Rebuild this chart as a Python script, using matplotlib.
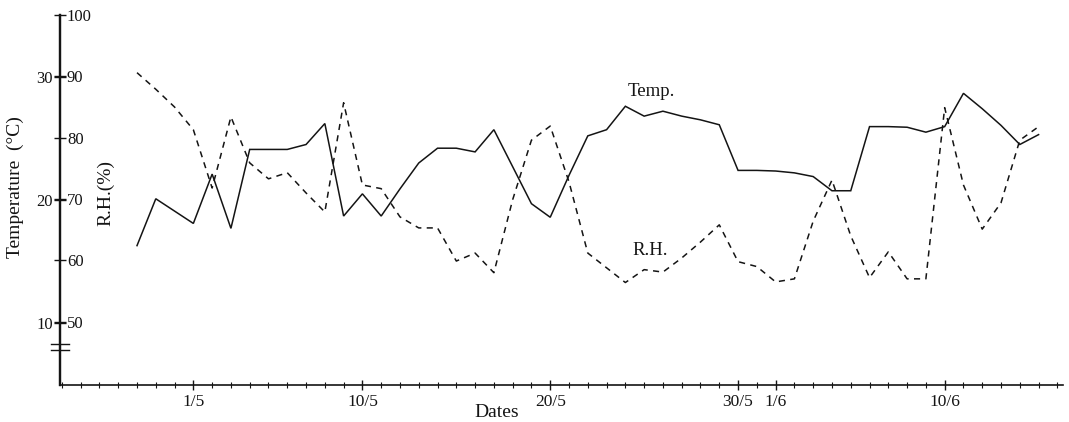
import numpy as np
import matplotlib
matplotlib.use('Agg')
import matplotlib.pyplot as plt
from matplotlib.ticker import MultipleLocator, FixedLocator

plt.rcParams['font.family'] = ['Liberation Serif', 'DejaVu Serif']

# days counted from 1 May (1 = 1/5, 32 = 1/6), daily readings 28/4 .. 15/6
days = np.arange(-2, 47)

# mean air temperature (°C)
temp = [16.3, 20.1, 19.1, 18.1, 22.1, 17.7, 24.1, 24.1, 24.1, 24.5,
        26.2, 18.7, 20.5, 18.7, 20.9, 23.0, 24.2, 24.2, 23.9, 25.7,
        22.7, 19.7, 18.6, 22.0, 25.2, 25.7, 27.6, 26.8, 27.2, 26.8,
        26.5, 26.1, 22.4, 22.4, 22.35, 22.2, 21.9, 20.75, 20.75, 25.95,
        25.95, 25.9, 25.5, 25.95, 28.65, 27.4, 26.05, 24.5, 25.3]

# relative humidity (%)
rh = [90.6, 87.9, 85.0, 81.3, 71.8, 83.4, 75.9, 73.3, 74.3, 71.0,
      67.9, 85.7, 72.3, 71.7, 67.1, 65.3, 65.3, 59.9, 61.2, 58.0,
      69.9, 79.6, 81.9, 72.8, 61.2, 58.8, 56.4, 58.5, 58.1, 60.4,
      63.0, 65.8, 59.8, 59.0, 56.5, 57.0, 66.4, 73.1, 64.0, 57.2,
      61.4, 57.0, 57.0, 84.9, 72.3, 65.1, 69.4, 79.6, 81.8]

tick_days = [1, 10, 20, 30, 32, 41]
tick_labels = ['1/5', '10/5', '20/5', '30/5', '1/6', '10/6']

ink = '#141414'

fig = plt.figure(figsize=(10.69, 4.22), dpi=100)
ax = fig.add_axes([60 / 1069, 37 / 422, 1003 / 1069, 370 / 422])
ax2 = ax.twinx()

# temperature axis (left of the spine)
ax.plot(days, temp, color=ink, lw=1.1, solid_joinstyle='miter')
ax.set_ylim(5, 35)
ax.set_xlim(-6.1, 47.3)
ax.set_yticks([10, 20, 30])
ax.tick_params(axis='y', direction='inout', length=8, width=1.0,
               labelsize=12, pad=1, colors=ink)

# humidity axis, drawn on the same spine but labelled to the right
ax2.plot(days, rh, color=ink, lw=1.1, linestyle=(0, (4, 3.5)))
ax2.set_ylim(39.7, 100)
ax2.spines['right'].set_position(('axes', 0))
ax2.set_yticks([50, 60, 70, 80, 90, 100])
ax2.tick_params(axis='y', direction='inout', length=8, width=1.0,
                labelsize=12, pad=1, colors=ink)

for a in (ax, ax2):
    a.spines['top'].set_visible(False)
ax.spines['right'].set_visible(False)
ax2.spines['left'].set_visible(False)
ax2.spines['bottom'].set_visible(False)
ax.spines['left'].set_linewidth(1.6)
ax2.spines['right'].set_linewidth(1.6)
ax.spines['bottom'].set_linewidth(1.2)
for s in ('left', 'bottom'):
    ax.spines[s].set_color(ink)
ax2.spines['right'].set_color(ink)

# axis break marks on the vertical axis
for yb in (46.4, 45.4):
    ax2.plot([-0.009, 0.009], [yb, yb], color=ink, lw=1.0,
             transform=ax2.get_yaxis_transform(), clip_on=False)

# date axis
ax.xaxis.set_major_locator(FixedLocator(tick_days))
ax.set_xticklabels(tick_labels)
ax.xaxis.set_minor_locator(MultipleLocator(1))
ax.tick_params(axis='x', which='major', direction='inout', length=7,
               width=1.0, labelsize=12.5, pad=3, colors=ink)
ax.tick_params(axis='x', which='minor', direction='inout', length=4,
               width=0.8, colors=ink)

ax.set_xlabel('Dates', fontsize=14, color=ink)
ax.xaxis.set_label_coords(0.435, -0.052)

ax.set_ylabel('Temperature  (°C)', fontsize=14, color=ink, va='center')
ax.yaxis.set_label_coords(-0.045, 0.535)
ax2.set_ylabel('R.H.(%)', fontsize=14, color=ink, rotation=90,
               va='center', ha='center')
ax2.yaxis.set_label_coords(0.046, 0.52)

# series labels
ax2.text(25.4, 87.6, 'Temp.', fontsize=13.5, color=ink, ha='center', va='center')
ax2.text(25.3, 61.7, 'R.H.', fontsize=13.5, color=ink, ha='center', va='center')

fig.savefig('out.png', dpi=100)
